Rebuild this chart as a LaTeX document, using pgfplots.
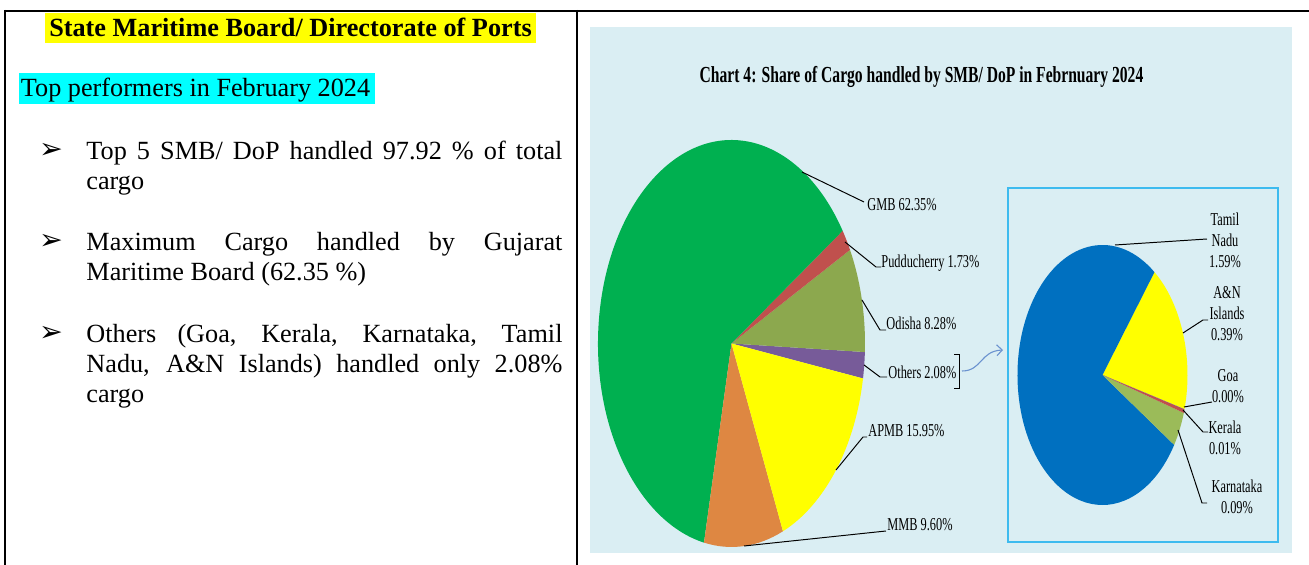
\documentclass[border=0pt]{standalone}
\usepackage{fontspec}
\setmainfont{Liberation Serif}
\newfontfamily\cf[FakeStretch=0.68]{Liberation Serif}
\newfontfamily\dv{DejaVu Sans}
\usepackage{pgfplots}
\usepackage{pgfplotstable}
\pgfplotsset{compat=1.18}
\usetikzlibrary{arrows.meta}

\definecolor{panel}{HTML}{DAEEF3}
\definecolor{boxblue}{HTML}{3DBBEF}
\definecolor{arrowblue}{HTML}{6A92CF}
\definecolor{hlyellow}{HTML}{FFFF00}
\definecolor{hlcyan}{HTML}{00FFFF}
\definecolor{cGMB}{HTML}{00B050}
\definecolor{cPud}{HTML}{C0504D}
\definecolor{cOdi}{HTML}{8CA84E}
\definecolor{cOth}{HTML}{775B99}
\definecolor{cAPM}{HTML}{FFFF00}
\definecolor{cMMB}{HTML}{DE8742}
\definecolor{cTN}{HTML}{0070C0}
\definecolor{cAN}{HTML}{FFFF00}
\definecolor{cGoa}{HTML}{4F81BD}
\definecolor{cKer}{HTML}{C0504D}
\definecolor{cKar}{HTML}{9BBB59}

% Main pie (share of cargo, %), counter-clockwise from the "Others" slice
\pgfplotstableread[col sep=comma]{
name,value,clr
Others,2.08,cOth
Odisha,8.28,cOdi
Pudducherry,1.73,cPud
GMB,62.35,cGMB
MMB,9.60,cMMB
APMB,15.95,cAPM
}\maintable

% Secondary pie (break-up of Others, %)
\pgfplotstableread[col sep=comma]{
name,value,clr
AN,0.39,cAN
TamilNadu,1.59,cTN
Karnataka,0.09,cKar
Kerala,0.01,cKer
Goa,0.00,cGoa
}\othertable

\begin{document}
\begin{tikzpicture}
\begin{scope}[x=0.4575pt,y=-0.4575pt]
\path[use as bounding box] (0,0) rectangle (1309,565);
% frame
\draw[line width=0.92pt] (4,11) -- (1309,11);
\draw[line width=0.92pt] (5,10) -- (5,565);
\draw[line width=0.92pt] (577,10) -- (577,565);
% highlights
\fill[hlyellow] (45,13) rectangle (536,43);
\fill[hlcyan] (19,73) rectangle (375,104);
\node[anchor=base,inner sep=0,font=\bfseries\fontsize{12}{14}\selectfont] at (290.5,36.5) {State Maritime Board/ Directorate of Ports};
\node[anchor=base west,inner sep=0,font=\fontsize{12}{14}\selectfont] at (20.5,97) {Top performers in February 2024};
% bullets
\foreach \yy in {159,250,342}{\node[anchor=base west,inner sep=0,font=\dv\fontsize{13}{14}\selectfont] at (39,\yy) {➢};}
\node[anchor=base west,inner sep=0] at (86,160) {\parbox[t]{217.8pt}{\fontsize{12}{13.72}\selectfont\hyphenpenalty=10000\exhyphenpenalty=10000 Top 5 SMB/ DoP handled 97.92 \% of total\linebreak cargo}};
\node[anchor=base west,inner sep=0] at (86,251) {\parbox[t]{217.8pt}{\fontsize{12}{13.72}\selectfont\hyphenpenalty=10000\exhyphenpenalty=10000 Maximum Cargo handled by Gujarat\linebreak Maritime Board (62.35 \%)}};
\node[anchor=base west,inner sep=0] at (86,343) {\parbox[t]{217.8pt}{\fontsize{12}{13.72}\selectfont\hyphenpenalty=10000\exhyphenpenalty=10000 Others (Goa, Kerala, Karnataka, Tamil\linebreak Nadu, A\&N Islands) handled only 2.08\%\linebreak cargo}};
% chart panel
\fill[panel] (590,27) rectangle (1292,553);
\node[font=\cf\bfseries\fontsize{10.5}{12}\selectfont,inner sep=0] at (921.5,77) {Chart 4: Share of Cargo handled by SMB/ DoP in Febrnuary 2024};
\draw[boxblue,line width=0.7pt] (1008,188) rectangle (1278,542);
\end{scope}

% ---- main pie
\begin{axis}[at={({731.5*0.4575pt},{-343.5*0.4575pt})},anchor=center,
  scale only axis,width=122.15pt,height=186.2pt,
  xmin=-1,xmax=1,ymin=-1,ymax=1,hide axis,clip=false]
\def\startang{-9.9}
\pgfplotsforeachungrouped \i in {0,1,2,3,4,5}{%
  \pgfplotstablegetelem{\i}{value}\of\maintable \let\val\pgfplotsretval
  \pgfplotstablegetelem{\i}{clr}\of\maintable \let\col\pgfplotsretval
  \pgfmathsetmacro{\endang}{\startang+\val/99.99*360}%
  \edef\slice{\noexpand\fill[\col] (axis cs:0,0) -- (axis cs:{cos(\startang)},{sin(\startang)}) arc[start angle=\startang, end angle=\endang, x radius=61.08pt, y radius=93.1pt] -- cycle;}%
  \slice
  \let\startang\endang
}
\end{axis}

% ---- secondary pie
\begin{axis}[at={({1102.5*0.4575pt},{-375*0.4575pt})},anchor=center,
  scale only axis,width=77.77pt,height=118.95pt,
  xmin=-1,xmax=1,ymin=-1,ymax=1,hide axis,clip=false]
\def\startang{-15.2}
\pgfplotsforeachungrouped \i in {0,1,2,3,4}{%
  \pgfplotstablegetelem{\i}{value}\of\othertable \let\val\pgfplotsretval
  \pgfplotstablegetelem{\i}{clr}\of\othertable \let\col\pgfplotsretval
  \pgfmathsetmacro{\endang}{\startang+\val/2.08*360}%
  \edef\slice{\noexpand\fill[\col] (axis cs:0,0) -- (axis cs:{cos(\startang)},{sin(\startang)}) arc[start angle=\startang, end angle=\endang, x radius=38.89pt, y radius=59.48pt] -- cycle;}%
  \slice
  \let\startang\endang
}
\end{axis}

\begin{scope}[x=0.4575pt,y=-0.4575pt]
\tikzset{lead/.style={black,line width=0.45pt},
  lab/.style={font=\cf\fontsize{8.3}{9.6}\selectfont,inner sep=0},
  lab2/.style={font=\cf\fontsize{8.3}{9.6}\selectfont,inner sep=0,align=center}}
% main labels
\draw[lead] (802,172) -- (864,202);
\node[lab,anchor=west] at (867,205) {GMB 62.35\%};
\draw[lead] (845,242) -- (876,267) -- (881,267);
\node[lab,anchor=west] at (881,263) {Pudducherry 1.73\%};
\draw[lead] (862,300) -- (880,330) -- (886,330);
\node[lab,anchor=west] at (886,323) {Odisha 8.28\%};
\draw[lead] (864,365) -- (880,377) -- (887,377);
\node[lab,anchor=west] at (888,372) {Others 2.08\%};
\draw[lead] (836,470) -- (863,437) -- (867,437);
\node[lab,anchor=west] at (868,431) {APMB 15.95\%};
\draw[lead] (744,546) -- (886,531);
\node[lab,anchor=west] at (887,525) {MMB 9.60\%};
% bracket and connector
\draw[black,line width=0.45pt] (954,354) -- (959,354) -- (959,388) -- (954,388);
\draw[arrowblue,line width=0.5pt,-{Straight Barb[length=2.5pt,width=5pt]}] (962,371) .. controls (982,371) and (980,351) .. (1003,350);
% secondary labels
\draw[lead] (1115,245) -- (1207,239);
\node[lab2] at (1225,240) {Tamil\\Nadu\\1.59\%};
\draw[lead] (1183,333) -- (1203,320) -- (1208,320);
\node[lab2] at (1227,314) {A\&N\\Islands\\0.39\%};
\draw[lead] (1184,407) -- (1212,402);
\node[lab2] at (1228,386) {Goa\\0.00\%};
\draw[lead] (1183,410) -- (1203,432) -- (1208,432);
\node[lab2] at (1225,438) {Kerala\\0.01\%};
\draw[lead] (1178,430) -- (1202,503) -- (1207,503);
\node[lab2] at (1237,497) {Karnataka\\0.09\%};
\end{scope}
\end{tikzpicture}
\end{document}
